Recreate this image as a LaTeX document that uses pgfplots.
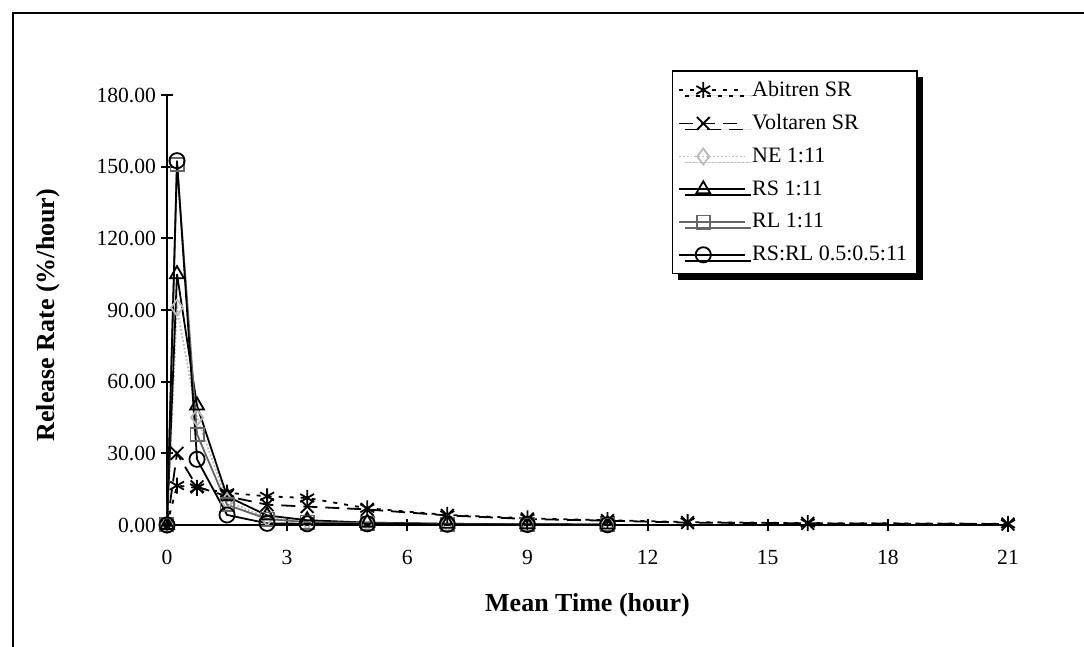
\documentclass[border=0pt]{standalone}
\usepackage{pgfplots}
\pgfplotsset{compat=1.18}
\usepackage{fontspec}
\setmainfont{Liberation Serif}
\usetikzlibrary{shadows}
\begin{document}
\begin{tikzpicture}
\useasboundingbox (-83.5pt,-61pt) rectangle (458.5pt,262.5pt);
\draw[line width=1pt] (-77pt,-61pt) -- (-77pt,256pt) -- (458.5pt,256pt);
\begin{axis}[
  at={(0,0)}, anchor=south west,
  width=420.5pt, height=215pt, scale only axis,
  xmin=0, xmax=21, ymin=0, ymax=180,
  axis lines=left, axis line style={-, line width=1pt},
  xtick={0,3,...,21}, ytick={0,30,...,180},
  tick align=center, major tick length=6pt,
  tick style={line width=1pt, black},
  /pgf/number format/assume math mode=true,
  yticklabel={\pgfmathprintnumber[fixed,fixed zerofill,precision=2]{\tick}},
  ticklabel style={font=\fontsize{10.8}{12}\selectfont},
  xticklabel style={yshift=-6pt},
  yticklabel style={xshift=1pt},
  xlabel={\textbf{Mean Time (hour)}},
  ylabel={\textbf{Release Rate (\%/hour)}},
  label style={font=\fontsize{13}{15}\selectfont},
  xlabel style={at={(axis description cs:0.5,-0.186)}, anchor=center},
  ylabel style={at={(axis description cs:-0.1415,0.488)}, anchor=center},
  legend style={at={(axis description cs:0.893,1.058)}, anchor=north east,
    draw=black, line width=0.8pt, fill=white,
    drop shadow={shadow xshift=3pt, shadow yshift=-3pt, fill=black, opacity=1},
    font=\fontsize{11}{13}\selectfont, row sep=3.6pt, inner sep=3pt,
    /tikz/every odd column/.append style={column sep=1pt}},
  legend cell align=left,
  legend image code/.code={\draw[mark repeat=2,mark phase=2] plot coordinates {(0pt,0pt) (12pt,0pt) (33pt,0pt)};},
  every axis plot/.append style={line width=0.9pt},
  clip=false,
]
\addplot[black, dash pattern=on 2pt off 3.5pt, mark=asterisk, mark size=4pt, mark options={solid, line width=0.9pt}] coordinates {
(0,0) (0.25,16.5) (0.75,15.5) (1.5,13.5) (2.5,12.0) (3.5,11.3) (5,7.0) (7,4.2) (9,2.8) (11,2.0) (13,1.2) (16,0.8) (21,0.5)};
\addlegendentry{Abitren SR}
\addplot[black, dash pattern=on 7pt off 4pt, mark=x, mark size=4.5pt, mark options={solid, line width=0.9pt}] coordinates {
(0,0) (0.25,30) (0.75,16) (1.5,12) (2.5,8.5) (3.5,7.7) (5,6.5) (7,4.0) (9,2.5) (11,1.8) (13,1.0) (16,0.7) (21,0.4)};
\addlegendentry{Voltaren SR}
\addplot[gray!55, densely dotted, mark=diamond, mark size=4pt, mark options={solid}] coordinates {
(0,0) (0.25,91) (0.75,45) (1.5,10) (2.5,3) (3.5,1.5) (5,1.0) (7,0.6) (9,0.4) (11,0.3)};
\addlegendentry{NE 1:11}
\addplot[black, mark=triangle, mark size=4pt] coordinates {
(0,0) (0.25,105) (0.75,50) (1.5,12) (2.5,4) (3.5,2) (5,1) (7,0.5) (9,0.3) (11,0.2)};
\addlegendentry{RS 1:11}
\addplot[gray!80!black, mark=square, mark size=3.3pt] coordinates {
(0,0) (0.25,151) (0.75,38) (1.5,8.5) (2.5,2.5) (3.5,1.2) (5,0.8) (7,0.4) (9,0.3) (11,0.2)};
\addlegendentry{RL 1:11}
\addplot[black, mark=o, mark size=3.8pt] coordinates {
(0,0) (0.25,152.5) (0.75,27.5) (1.5,4.2) (2.5,0.7) (3.5,0.5) (5,0.5) (7,0.3) (9,0.2) (11,0.1)};
\addlegendentry{RS:RL 0.5:0.5:11}
\end{axis}
\end{tikzpicture}
\end{document}
